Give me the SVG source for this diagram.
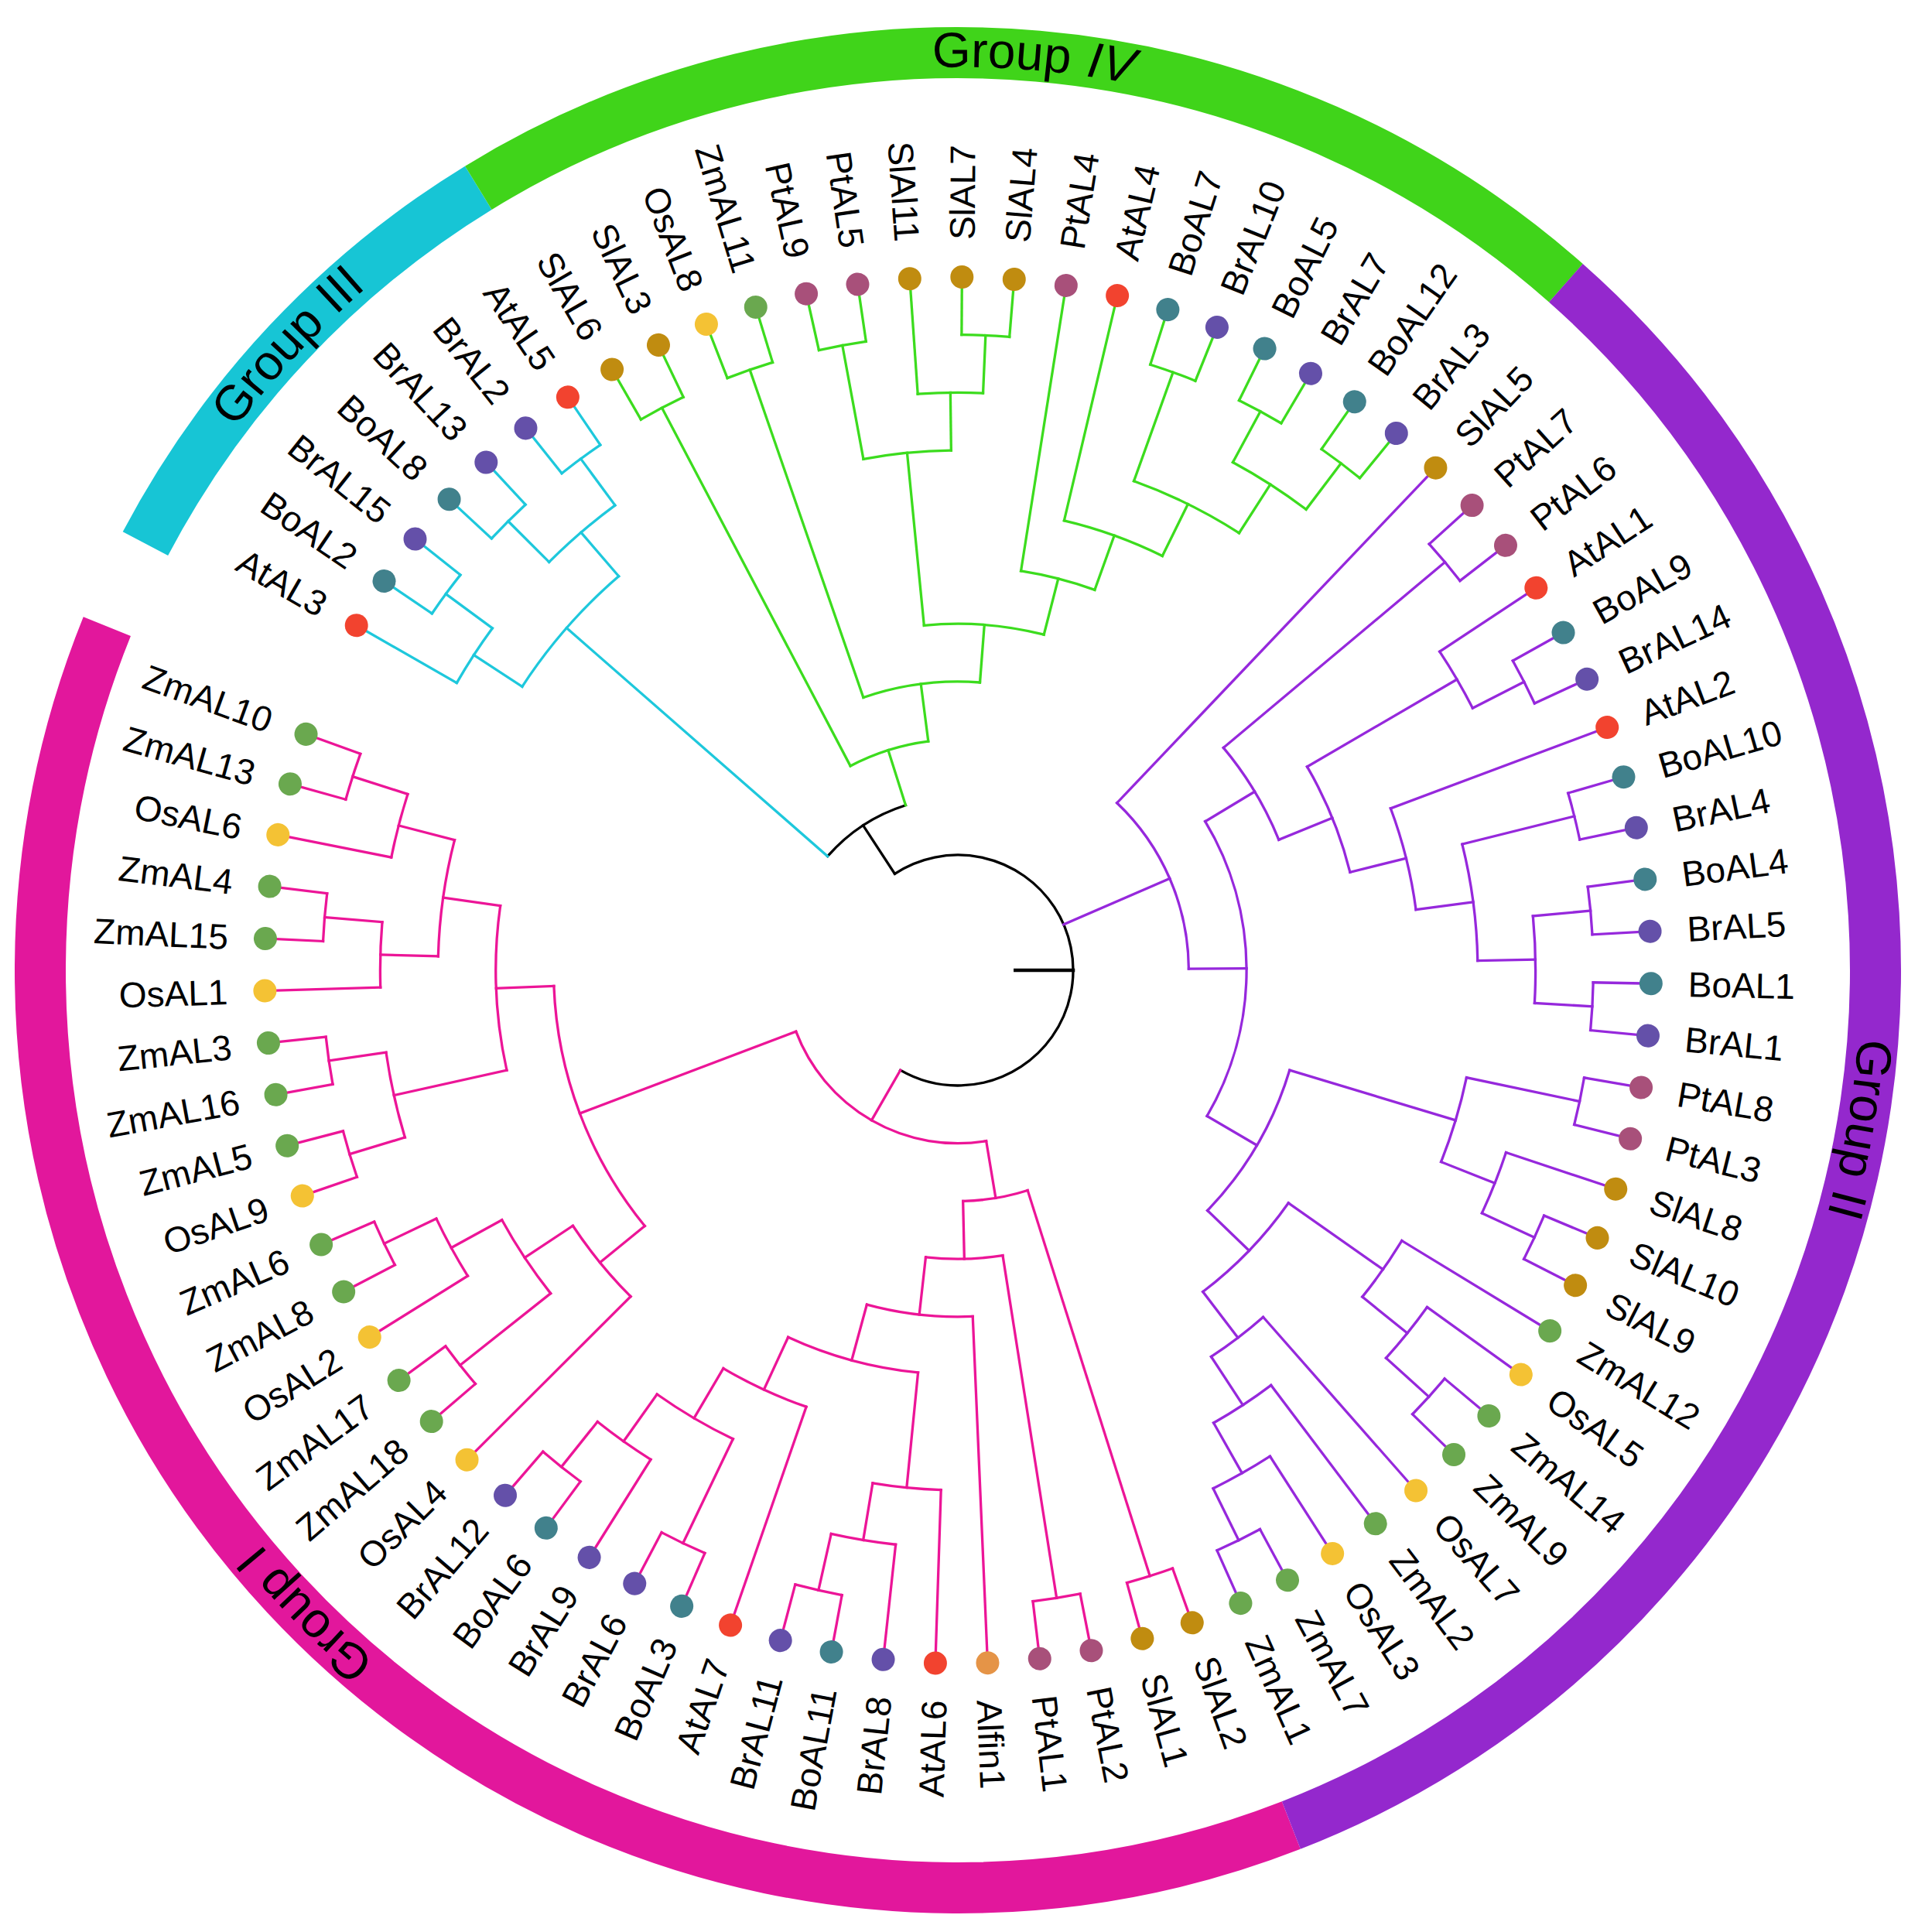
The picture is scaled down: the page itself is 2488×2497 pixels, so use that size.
<svg xmlns="http://www.w3.org/2000/svg" width="2488" height="2497" viewBox="0 0 2488 2497">
<style>
.t{font-family:"Liberation Sans",Arial,sans-serif;font-size:46px;fill:#000}
.e{text-anchor:end}
.g{font-family:"Liberation Sans",Arial,sans-serif;font-size:64px;fill:#000}
.it{font-style:italic}
#connectors line,#connectors circle{fill:none;stroke-width:3.3;stroke-linecap:square}
.I{stroke:#ec1597}.II{stroke:#9628dc}.III{stroke:#1ec8dc}.IV{stroke:#3cdc1e}.k{stroke:#000}
.ring{fill:none;stroke-width:66}
.at{fill:#f2432f}.bo{fill:#41818c}.br{fill:#6450a9}.pt{fill:#a8507a}.sl{fill:#c08c10}.os{fill:#f4c234}.zm{fill:#6aa84f}.al{fill:#e59447}
</style>
<defs>
<path id="lp" d="M 2405 1254 A 1167 1167 0 1 1 71 1254 A 1167 1167 0 1 1 2405 1254"/>
</defs>
<rect width="2488" height="2497" fill="#fff"/>
<g id="rings" transform="translate(1238 1254)">
<circle class="ring" r="1186" pathLength="360" stroke-dasharray="133.3 360" transform="rotate(68.7)" stroke="#e2179c"/>
<circle class="ring" r="1186" pathLength="360" stroke-dasharray="30.8 360" transform="rotate(207.7)" stroke="#17c5d5"/>
<circle class="ring" r="1186" pathLength="360" stroke-dasharray="73 360" transform="rotate(238.5)" stroke="#40d41a"/>
<circle class="ring" r="1186" pathLength="360" stroke-dasharray="117.2 360" transform="rotate(311.5)" stroke="#9428cd"/>
</g>
<g id="group-labels">
<text class="g"><textPath href="#lp" startOffset="203.7" text-anchor="middle">Group II</textPath></text>
<text class="g"><textPath href="#lp" startOffset="2757.8" text-anchor="middle">Group I</textPath></text>
<text class="g"><textPath href="#lp" startOffset="4542.1" text-anchor="middle">Group III</textPath></text>
<text class="g"><textPath href="#lp" startOffset="5467">Group</textPath></text>
<text class="g it"><textPath href="#lp" startOffset="5666">IV</textPath></text>
</g>
<g id="connectors" transform="translate(1238 1254)">
<g class="k">
<circle r="149" pathLength="360" stroke-dasharray="243.1 360" transform="rotate(236.81)"/>
<circle r="223.7" pathLength="360" stroke-dasharray="31.26 360" transform="rotate(221.18)"/>
<line x1="149" x2="223.7" transform="rotate(236.81)"/>
<line x1="74.3" x2="149" transform="rotate(0)" style="stroke-width:4.5"/>
</g>
<g class="III">
<circle r="821.3" pathLength="360" stroke-dasharray="4.32 360" transform="rotate(214.15)"/>
<circle r="821.3" pathLength="360" stroke-dasharray="4.32 360" transform="rotate(222.8)"/>
<circle r="821.3" pathLength="360" stroke-dasharray="4.32 360" transform="rotate(231.44)"/>
<circle r="746.6" pathLength="360" stroke-dasharray="6.48 360" transform="rotate(209.83)"/>
<circle r="746.6" pathLength="360" stroke-dasharray="8.64 360" transform="rotate(224.96)"/>
<circle r="671.9" pathLength="360" stroke-dasharray="16.21 360" transform="rotate(213.07)"/>
<line x1="746.6" x2="896" transform="rotate(209.83)"/>
<line x1="821.3" x2="896" transform="rotate(214.15)"/>
<line x1="821.3" x2="896" transform="rotate(218.47)"/>
<line x1="821.3" x2="896" transform="rotate(222.8)"/>
<line x1="821.3" x2="896" transform="rotate(227.12)"/>
<line x1="821.3" x2="896" transform="rotate(231.44)"/>
<line x1="821.3" x2="896" transform="rotate(235.76)"/>
<line x1="746.6" x2="821.3" transform="rotate(216.31)"/>
<line x1="746.6" x2="821.3" transform="rotate(224.96)"/>
<line x1="746.6" x2="821.3" transform="rotate(233.6)"/>
<line x1="671.9" x2="746.6" transform="rotate(213.07)"/>
<line x1="671.9" x2="746.6" transform="rotate(229.28)"/>
<line x1="223.7" x2="671.9" transform="rotate(221.18)"/>
</g>
<g class="IV">
<circle r="821.3" pathLength="360" stroke-dasharray="4.32 360" transform="rotate(240.08)"/>
<circle r="821.3" pathLength="360" stroke-dasharray="4.32 360" transform="rotate(248.73)"/>
<circle r="821.3" pathLength="360" stroke-dasharray="4.32 360" transform="rotate(257.37)"/>
<circle r="821.3" pathLength="360" stroke-dasharray="4.32 360" transform="rotate(270.34)"/>
<circle r="821.3" pathLength="360" stroke-dasharray="4.32 360" transform="rotate(287.63)"/>
<circle r="821.3" pathLength="360" stroke-dasharray="4.32 360" transform="rotate(296.27)"/>
<circle r="821.3" pathLength="360" stroke-dasharray="4.32 360" transform="rotate(304.91)"/>
<circle r="746.6" pathLength="360" stroke-dasharray="6.48 360" transform="rotate(266.02)"/>
<circle r="746.6" pathLength="360" stroke-dasharray="8.64 360" transform="rotate(298.43)"/>
<circle r="671.9" pathLength="360" stroke-dasharray="9.73 360" transform="rotate(259.53)"/>
<circle r="671.9" pathLength="360" stroke-dasharray="12.96 360" transform="rotate(289.79)"/>
<circle r="597.2" pathLength="360" stroke-dasharray="12.97 360" transform="rotate(283.3)"/>
<circle r="522.5" pathLength="360" stroke-dasharray="10.81 360" transform="rotate(278.98)"/>
<circle r="447.8" pathLength="360" stroke-dasharray="19.98 360" transform="rotate(264.4)"/>
<circle r="373.1" pathLength="360" stroke-dasharray="23.5 360" transform="rotate(250.89)"/>
<circle r="298.4" pathLength="360" stroke-dasharray="20.39 360" transform="rotate(242.25)"/>
<line x1="821.3" x2="896" transform="rotate(240.08)"/>
<line x1="821.3" x2="896" transform="rotate(244.41)"/>
<line x1="821.3" x2="896" transform="rotate(248.73)"/>
<line x1="821.3" x2="896" transform="rotate(253.05)"/>
<line x1="821.3" x2="896" transform="rotate(257.37)"/>
<line x1="821.3" x2="896" transform="rotate(261.69)"/>
<line x1="746.6" x2="896" transform="rotate(266.02)"/>
<line x1="821.3" x2="896" transform="rotate(270.34)"/>
<line x1="821.3" x2="896" transform="rotate(274.66)"/>
<line x1="522.5" x2="896" transform="rotate(278.98)"/>
<line x1="597.2" x2="896" transform="rotate(283.3)"/>
<line x1="821.3" x2="896" transform="rotate(287.63)"/>
<line x1="821.3" x2="896" transform="rotate(291.95)"/>
<line x1="821.3" x2="896" transform="rotate(296.27)"/>
<line x1="821.3" x2="896" transform="rotate(300.59)"/>
<line x1="821.3" x2="896" transform="rotate(304.91)"/>
<line x1="821.3" x2="896" transform="rotate(309.24)"/>
<line x1="298.4" x2="821.3" transform="rotate(242.25)"/>
<line x1="373.1" x2="821.3" transform="rotate(250.89)"/>
<line x1="671.9" x2="821.3" transform="rotate(259.53)"/>
<line x1="746.6" x2="821.3" transform="rotate(272.5)"/>
<line x1="671.9" x2="746.6" transform="rotate(269.26)"/>
<line x1="447.8" x2="671.9" transform="rotate(264.4)"/>
<line x1="671.9" x2="821.3" transform="rotate(289.79)"/>
<line x1="746.6" x2="821.3" transform="rotate(298.43)"/>
<line x1="746.6" x2="821.3" transform="rotate(307.08)"/>
<line x1="671.9" x2="746.6" transform="rotate(302.75)"/>
<line x1="597.2" x2="671.9" transform="rotate(296.27)"/>
<line x1="522.5" x2="597.2" transform="rotate(289.79)"/>
<line x1="447.8" x2="522.5" transform="rotate(284.38)"/>
<line x1="373.1" x2="447.8" transform="rotate(274.39)"/>
<line x1="298.4" x2="373.1" transform="rotate(262.64)"/>
<line x1="223.7" x2="298.4" transform="rotate(252.44)"/>
</g>
<g class="II">
<circle r="821.3" pathLength="360" stroke-dasharray="4.32 360" transform="rotate(317.88)"/>
<circle r="821.3" pathLength="360" stroke-dasharray="4.32 360" transform="rotate(330.85)"/>
<circle r="821.3" pathLength="360" stroke-dasharray="4.32 360" transform="rotate(343.81)"/>
<circle r="821.3" pathLength="360" stroke-dasharray="4.32 360" transform="rotate(352.46)"/>
<circle r="821.3" pathLength="360" stroke-dasharray="4.32 360" transform="rotate(361.1)"/>
<circle r="821.3" pathLength="360" stroke-dasharray="4.32 360" transform="rotate(369.74)"/>
<circle r="821.3" pathLength="360" stroke-dasharray="4.32 360" transform="rotate(382.71)"/>
<circle r="821.3" pathLength="360" stroke-dasharray="4.32 360" transform="rotate(400)"/>
<circle r="821.3" pathLength="360" stroke-dasharray="4.32 360" transform="rotate(421.61)"/>
<circle r="746.6" pathLength="360" stroke-dasharray="6.49 360" transform="rotate(326.52)"/>
<circle r="746.6" pathLength="360" stroke-dasharray="8.64 360" transform="rotate(354.62)"/>
<circle r="746.6" pathLength="360" stroke-dasharray="6.48 360" transform="rotate(378.39)"/>
<circle r="746.6" pathLength="360" stroke-dasharray="6.48 360" transform="rotate(395.68)"/>
<circle r="746.6" pathLength="360" stroke-dasharray="6.48 360" transform="rotate(417.29)"/>
<circle r="671.9" pathLength="360" stroke-dasharray="12.97 360" transform="rotate(345.97)"/>
<circle r="671.9" pathLength="360" stroke-dasharray="9.72 360" transform="rotate(371.91)"/>
<circle r="671.9" pathLength="360" stroke-dasharray="7.57 360" transform="rotate(391.35)"/>
<circle r="671.9" pathLength="360" stroke-dasharray="7.57 360" transform="rotate(412.96)"/>
<circle r="597.2" pathLength="360" stroke-dasharray="12.97 360" transform="rotate(339.49)"/>
<circle r="597.2" pathLength="360" stroke-dasharray="8.11 360" transform="rotate(408.64)"/>
<circle r="522.5" pathLength="360" stroke-dasharray="16.2 360" transform="rotate(329.77)"/>
<circle r="522.5" pathLength="360" stroke-dasharray="17.55 360" transform="rotate(395.14)"/>
<circle r="447.8" pathLength="360" stroke-dasharray="17.83 360" transform="rotate(320.04)"/>
<circle r="447.8" pathLength="360" stroke-dasharray="27.14 360" transform="rotate(376.77)"/>
<circle r="373.1" pathLength="360" stroke-dasharray="61.38 360" transform="rotate(328.96)"/>
<circle r="298.4" pathLength="360" stroke-dasharray="46.09 360" transform="rotate(313.56)"/>
<line x1="298.4" x2="896" transform="rotate(313.56)"/>
<line x1="821.3" x2="896" transform="rotate(317.88)"/>
<line x1="821.3" x2="896" transform="rotate(322.2)"/>
<line x1="746.6" x2="896" transform="rotate(326.52)"/>
<line x1="821.3" x2="896" transform="rotate(330.85)"/>
<line x1="821.3" x2="896" transform="rotate(335.17)"/>
<line x1="597.2" x2="896" transform="rotate(339.49)"/>
<line x1="821.3" x2="896" transform="rotate(343.81)"/>
<line x1="821.3" x2="896" transform="rotate(348.13)"/>
<line x1="821.3" x2="896" transform="rotate(352.46)"/>
<line x1="821.3" x2="896" transform="rotate(356.78)"/>
<line x1="821.3" x2="896" transform="rotate(361.1)"/>
<line x1="821.3" x2="896" transform="rotate(365.42)"/>
<line x1="821.3" x2="896" transform="rotate(369.74)"/>
<line x1="821.3" x2="896" transform="rotate(374.07)"/>
<line x1="746.6" x2="896" transform="rotate(378.39)"/>
<line x1="821.3" x2="896" transform="rotate(382.71)"/>
<line x1="821.3" x2="896" transform="rotate(387.03)"/>
<line x1="671.9" x2="896" transform="rotate(391.35)"/>
<line x1="746.6" x2="896" transform="rotate(395.68)"/>
<line x1="821.3" x2="896" transform="rotate(400)"/>
<line x1="821.3" x2="896" transform="rotate(404.32)"/>
<line x1="597.2" x2="896" transform="rotate(408.64)"/>
<line x1="671.9" x2="896" transform="rotate(412.96)"/>
<line x1="746.6" x2="896" transform="rotate(417.29)"/>
<line x1="821.3" x2="896" transform="rotate(421.61)"/>
<line x1="821.3" x2="896" transform="rotate(425.93)"/>
<line x1="447.8" x2="821.3" transform="rotate(320.04)"/>
<line x1="746.6" x2="821.3" transform="rotate(333.01)"/>
<line x1="522.5" x2="746.6" transform="rotate(329.77)"/>
<line x1="671.9" x2="821.3" transform="rotate(345.97)"/>
<line x1="746.6" x2="821.3" transform="rotate(354.62)"/>
<line x1="746.6" x2="821.3" transform="rotate(363.26)"/>
<line x1="671.9" x2="746.6" transform="rotate(358.94)"/>
<line x1="597.2" x2="671.9" transform="rotate(352.46)"/>
<line x1="522.5" x2="597.2" transform="rotate(345.97)"/>
<line x1="447.8" x2="522.5" transform="rotate(337.87)"/>
<line x1="373.1" x2="447.8" transform="rotate(328.96)"/>
<line x1="671.9" x2="821.3" transform="rotate(371.91)"/>
<line x1="746.6" x2="821.3" transform="rotate(384.87)"/>
<line x1="671.9" x2="746.6" transform="rotate(381.63)"/>
<line x1="447.8" x2="671.9" transform="rotate(376.77)"/>
<line x1="746.6" x2="821.3" transform="rotate(402.16)"/>
<line x1="671.9" x2="746.6" transform="rotate(398.92)"/>
<line x1="522.5" x2="671.9" transform="rotate(395.14)"/>
<line x1="746.6" x2="821.3" transform="rotate(423.77)"/>
<line x1="671.9" x2="746.6" transform="rotate(420.53)"/>
<line x1="597.2" x2="671.9" transform="rotate(416.75)"/>
<line x1="522.5" x2="597.2" transform="rotate(412.69)"/>
<line x1="447.8" x2="522.5" transform="rotate(403.91)"/>
<line x1="373.1" x2="447.8" transform="rotate(390.34)"/>
<line x1="298.4" x2="373.1" transform="rotate(359.65)"/>
<line x1="149" x2="298.4" transform="rotate(336.6)"/>
</g>
<g class="I">
<circle r="821.3" pathLength="360" stroke-dasharray="4.32 360" transform="rotate(430.25)"/>
<circle r="821.3" pathLength="360" stroke-dasharray="4.32 360" transform="rotate(438.9)"/>
<circle r="821.3" pathLength="360" stroke-dasharray="4.32 360" transform="rotate(460.51)"/>
<circle r="821.3" pathLength="360" stroke-dasharray="4.32 360" transform="rotate(473.47)"/>
<circle r="821.3" pathLength="360" stroke-dasharray="4.32 360" transform="rotate(486.44)"/>
<circle r="821.3" pathLength="360" stroke-dasharray="4.32 360" transform="rotate(499.4)"/>
<circle r="821.3" pathLength="360" stroke-dasharray="4.32 360" transform="rotate(512.37)"/>
<circle r="821.3" pathLength="360" stroke-dasharray="4.32 360" transform="rotate(521.01)"/>
<circle r="821.3" pathLength="360" stroke-dasharray="4.32 360" transform="rotate(529.66)"/>
<circle r="821.3" pathLength="360" stroke-dasharray="4.32 360" transform="rotate(542.62)"/>
<circle r="821.3" pathLength="360" stroke-dasharray="4.32 360" transform="rotate(555.59)"/>
<circle r="746.6" pathLength="360" stroke-dasharray="6.49 360" transform="rotate(456.18)"/>
<circle r="746.6" pathLength="360" stroke-dasharray="6.48 360" transform="rotate(482.12)"/>
<circle r="746.6" pathLength="360" stroke-dasharray="6.48 360" transform="rotate(508.05)"/>
<circle r="746.6" pathLength="360" stroke-dasharray="8.64 360" transform="rotate(523.18)"/>
<circle r="746.6" pathLength="360" stroke-dasharray="6.49 360" transform="rotate(538.3)"/>
<circle r="746.6" pathLength="360" stroke-dasharray="6.48 360" transform="rotate(551.27)"/>
<circle r="671.9" pathLength="360" stroke-dasharray="7.57 360" transform="rotate(451.86)"/>
<circle r="671.9" pathLength="360" stroke-dasharray="9.73 360" transform="rotate(475.63)"/>
<circle r="671.9" pathLength="360" stroke-dasharray="9.72 360" transform="rotate(501.57)"/>
<circle r="671.9" pathLength="360" stroke-dasharray="12.97 360" transform="rotate(541.54)"/>
<circle r="597.2" pathLength="360" stroke-dasharray="11.35 360" transform="rotate(469.15)"/>
<circle r="597.2" pathLength="360" stroke-dasharray="11.35 360" transform="rotate(495.08)"/>
<circle r="597.2" pathLength="360" stroke-dasharray="20.53 360" transform="rotate(527.5)"/>
<circle r="522.5" pathLength="360" stroke-dasharray="19.17 360" transform="rotate(455.65)"/>
<circle r="522.5" pathLength="360" stroke-dasharray="37 360" transform="rotate(500.76)"/>
<circle r="447.8" pathLength="360" stroke-dasharray="17.69 360" transform="rotate(447.54)"/>
<circle r="373.1" pathLength="360" stroke-dasharray="15.33 360" transform="rotate(441.06)"/>
<circle r="298.4" pathLength="360" stroke-dasharray="16.31 360" transform="rotate(432.41)"/>
<circle r="223.7" pathLength="360" stroke-dasharray="78.69 360" transform="rotate(440.57)"/>
<line x1="821.3" x2="896" transform="rotate(430.25)"/>
<line x1="821.3" x2="896" transform="rotate(434.57)"/>
<line x1="821.3" x2="896" transform="rotate(438.9)"/>
<line x1="821.3" x2="896" transform="rotate(443.22)"/>
<line x1="447.8" x2="896" transform="rotate(447.54)"/>
<line x1="671.9" x2="896" transform="rotate(451.86)"/>
<line x1="746.6" x2="896" transform="rotate(456.18)"/>
<line x1="821.3" x2="896" transform="rotate(460.51)"/>
<line x1="821.3" x2="896" transform="rotate(464.83)"/>
<line x1="597.2" x2="896" transform="rotate(469.15)"/>
<line x1="821.3" x2="896" transform="rotate(473.47)"/>
<line x1="821.3" x2="896" transform="rotate(477.79)"/>
<line x1="746.6" x2="896" transform="rotate(482.12)"/>
<line x1="821.3" x2="896" transform="rotate(486.44)"/>
<line x1="821.3" x2="896" transform="rotate(490.76)"/>
<line x1="597.2" x2="896" transform="rotate(495.08)"/>
<line x1="821.3" x2="896" transform="rotate(499.4)"/>
<line x1="821.3" x2="896" transform="rotate(503.73)"/>
<line x1="746.6" x2="896" transform="rotate(508.05)"/>
<line x1="821.3" x2="896" transform="rotate(512.37)"/>
<line x1="821.3" x2="896" transform="rotate(516.69)"/>
<line x1="821.3" x2="896" transform="rotate(521.01)"/>
<line x1="821.3" x2="896" transform="rotate(525.34)"/>
<line x1="821.3" x2="896" transform="rotate(529.66)"/>
<line x1="821.3" x2="896" transform="rotate(533.98)"/>
<line x1="746.6" x2="896" transform="rotate(538.3)"/>
<line x1="821.3" x2="896" transform="rotate(542.62)"/>
<line x1="821.3" x2="896" transform="rotate(546.95)"/>
<line x1="746.6" x2="896" transform="rotate(551.27)"/>
<line x1="821.3" x2="896" transform="rotate(555.59)"/>
<line x1="821.3" x2="896" transform="rotate(559.91)"/>
<line x1="298.4" x2="821.3" transform="rotate(432.41)"/>
<line x1="373.1" x2="821.3" transform="rotate(441.06)"/>
<line x1="746.6" x2="821.3" transform="rotate(462.67)"/>
<line x1="671.9" x2="746.6" transform="rotate(459.43)"/>
<line x1="522.5" x2="671.9" transform="rotate(455.65)"/>
<line x1="671.9" x2="821.3" transform="rotate(475.63)"/>
<line x1="746.6" x2="821.3" transform="rotate(488.6)"/>
<line x1="671.9" x2="746.6" transform="rotate(485.36)"/>
<line x1="597.2" x2="671.9" transform="rotate(480.5)"/>
<line x1="522.5" x2="597.2" transform="rotate(474.82)"/>
<line x1="447.8" x2="522.5" transform="rotate(465.23)"/>
<line x1="373.1" x2="447.8" transform="rotate(456.39)"/>
<line x1="298.4" x2="373.1" transform="rotate(448.72)"/>
<line x1="223.7" x2="298.4" transform="rotate(440.57)"/>
<line x1="671.9" x2="821.3" transform="rotate(501.57)"/>
<line x1="746.6" x2="821.3" transform="rotate(514.53)"/>
<line x1="671.9" x2="746.6" transform="rotate(511.29)"/>
<line x1="597.2" x2="671.9" transform="rotate(506.43)"/>
<line x1="522.5" x2="597.2" transform="rotate(500.76)"/>
<line x1="746.6" x2="821.3" transform="rotate(523.18)"/>
<line x1="746.6" x2="821.3" transform="rotate(531.82)"/>
<line x1="597.2" x2="746.6" transform="rotate(527.5)"/>
<line x1="746.6" x2="821.3" transform="rotate(544.79)"/>
<line x1="671.9" x2="746.6" transform="rotate(541.54)"/>
<line x1="746.6" x2="821.3" transform="rotate(557.75)"/>
<line x1="671.9" x2="746.6" transform="rotate(554.51)"/>
<line x1="597.2" x2="671.9" transform="rotate(548.03)"/>
<line x1="522.5" x2="597.2" transform="rotate(537.76)"/>
<line x1="223.7" x2="522.5" transform="rotate(519.26)"/>
<line x1="149" x2="223.7" transform="rotate(479.91)"/>
</g>
</g>
<g id="leaves" transform="translate(1238 1254)">
<g id="AtAL3" transform="rotate(209.83)"><circle cx="896" r="15" class="at"/><text class="t e" x="-944" dy=".35em" transform="rotate(180)">AtAL3</text></g>
<g id="BoAL2" transform="rotate(214.15)"><circle cx="896" r="15" class="bo"/><text class="t e" x="-944" dy=".35em" transform="rotate(180)">BoAL2</text></g>
<g id="BrAL15" transform="rotate(218.47)"><circle cx="896" r="15" class="br"/><text class="t e" x="-944" dy=".35em" transform="rotate(180)">BrAL15</text></g>
<g id="BoAL8" transform="rotate(222.8)"><circle cx="896" r="15" class="bo"/><text class="t e" x="-944" dy=".35em" transform="rotate(180)">BoAL8</text></g>
<g id="BrAL13" transform="rotate(227.12)"><circle cx="896" r="15" class="br"/><text class="t e" x="-944" dy=".35em" transform="rotate(180)">BrAL13</text></g>
<g id="BrAL2" transform="rotate(231.44)"><circle cx="896" r="15" class="br"/><text class="t e" x="-944" dy=".35em" transform="rotate(180)">BrAL2</text></g>
<g id="AtAL5" transform="rotate(235.76)"><circle cx="896" r="15" class="at"/><text class="t e" x="-944" dy=".35em" transform="rotate(180)">AtAL5</text></g>
<g id="SlAL6" transform="rotate(240.08)"><circle cx="896" r="15" class="sl"/><text class="t e" x="-944" dy=".35em" transform="rotate(180)">SlAL6</text></g>
<g id="SlAL3" transform="rotate(244.41)"><circle cx="896" r="15" class="sl"/><text class="t e" x="-944" dy=".35em" transform="rotate(180)">SlAL3</text></g>
<g id="OsAL8" transform="rotate(248.73)"><circle cx="896" r="15" class="os"/><text class="t e" x="-944" dy=".35em" transform="rotate(180)">OsAL8</text></g>
<g id="ZmAL11" transform="rotate(253.05)"><circle cx="896" r="15" class="zm"/><text class="t e" x="-944" dy=".35em" transform="rotate(180)">ZmAL11</text></g>
<g id="PtAL9" transform="rotate(257.37)"><circle cx="896" r="15" class="pt"/><text class="t e" x="-944" dy=".35em" transform="rotate(180)">PtAL9</text></g>
<g id="PtAL5" transform="rotate(261.69)"><circle cx="896" r="15" class="pt"/><text class="t e" x="-944" dy=".35em" transform="rotate(180)">PtAL5</text></g>
<g id="SlAl11" transform="rotate(266.02)"><circle cx="896" r="15" class="sl"/><text class="t e" x="-944" dy=".35em" transform="rotate(180)">SlAl11</text></g>
<g id="SlAL7" transform="rotate(270.34)"><circle cx="896" r="15" class="sl"/><text class="t" x="944" dy=".35em">SlAL7</text></g>
<g id="SlAL4" transform="rotate(274.66)"><circle cx="896" r="15" class="sl"/><text class="t" x="944" dy=".35em">SlAL4</text></g>
<g id="PtAL4" transform="rotate(278.98)"><circle cx="896" r="15" class="pt"/><text class="t" x="944" dy=".35em">PtAL4</text></g>
<g id="AtAL4" transform="rotate(283.3)"><circle cx="896" r="15" class="at"/><text class="t" x="944" dy=".35em">AtAL4</text></g>
<g id="BoAL7" transform="rotate(287.63)"><circle cx="896" r="15" class="bo"/><text class="t" x="944" dy=".35em">BoAL7</text></g>
<g id="BrAL10" transform="rotate(291.95)"><circle cx="896" r="15" class="br"/><text class="t" x="944" dy=".35em">BrAL10</text></g>
<g id="BoAL5" transform="rotate(296.27)"><circle cx="896" r="15" class="bo"/><text class="t" x="944" dy=".35em">BoAL5</text></g>
<g id="BrAL7" transform="rotate(300.59)"><circle cx="896" r="15" class="br"/><text class="t" x="944" dy=".35em">BrAL7</text></g>
<g id="BoAL12" transform="rotate(304.91)"><circle cx="896" r="15" class="bo"/><text class="t" x="944" dy=".35em">BoAL12</text></g>
<g id="BrAL3" transform="rotate(309.24)"><circle cx="896" r="15" class="br"/><text class="t" x="944" dy=".35em">BrAL3</text></g>
<g id="SlAL5" transform="rotate(313.56)"><circle cx="896" r="15" class="sl"/><text class="t" x="944" dy=".35em">SlAL5</text></g>
<g id="PtAL7" transform="rotate(317.88)"><circle cx="896" r="15" class="pt"/><text class="t" x="944" dy=".35em">PtAL7</text></g>
<g id="PtAL6" transform="rotate(322.2)"><circle cx="896" r="15" class="pt"/><text class="t" x="944" dy=".35em">PtAL6</text></g>
<g id="AtAL1" transform="rotate(326.52)"><circle cx="896" r="15" class="at"/><text class="t" x="944" dy=".35em">AtAL1</text></g>
<g id="BoAL9" transform="rotate(330.85)"><circle cx="896" r="15" class="bo"/><text class="t" x="944" dy=".35em">BoAL9</text></g>
<g id="BrAL14" transform="rotate(335.17)"><circle cx="896" r="15" class="br"/><text class="t" x="944" dy=".35em">BrAL14</text></g>
<g id="AtAL2" transform="rotate(339.49)"><circle cx="896" r="15" class="at"/><text class="t" x="944" dy=".35em">AtAL2</text></g>
<g id="BoAL10" transform="rotate(343.81)"><circle cx="896" r="15" class="bo"/><text class="t" x="944" dy=".35em">BoAL10</text></g>
<g id="BrAL4" transform="rotate(348.13)"><circle cx="896" r="15" class="br"/><text class="t" x="944" dy=".35em">BrAL4</text></g>
<g id="BoAL4" transform="rotate(352.46)"><circle cx="896" r="15" class="bo"/><text class="t" x="944" dy=".35em">BoAL4</text></g>
<g id="BrAL5" transform="rotate(356.78)"><circle cx="896" r="15" class="br"/><text class="t" x="944" dy=".35em">BrAL5</text></g>
<g id="BoAL1" transform="rotate(361.1)"><circle cx="896" r="15" class="bo"/><text class="t" x="944" dy=".35em">BoAL1</text></g>
<g id="BrAL1" transform="rotate(365.42)"><circle cx="896" r="15" class="br"/><text class="t" x="944" dy=".35em">BrAL1</text></g>
<g id="PtAL8" transform="rotate(369.74)"><circle cx="896" r="15" class="pt"/><text class="t" x="944" dy=".35em">PtAL8</text></g>
<g id="PtAL3" transform="rotate(374.07)"><circle cx="896" r="15" class="pt"/><text class="t" x="944" dy=".35em">PtAL3</text></g>
<g id="SlAL8" transform="rotate(378.39)"><circle cx="896" r="15" class="sl"/><text class="t" x="944" dy=".35em">SlAL8</text></g>
<g id="SlAL10" transform="rotate(382.71)"><circle cx="896" r="15" class="sl"/><text class="t" x="944" dy=".35em">SlAL10</text></g>
<g id="SlAL9" transform="rotate(387.03)"><circle cx="896" r="15" class="sl"/><text class="t" x="944" dy=".35em">SlAL9</text></g>
<g id="ZmAL12" transform="rotate(391.35)"><circle cx="896" r="15" class="zm"/><text class="t" x="944" dy=".35em">ZmAL12</text></g>
<g id="OsAL5" transform="rotate(395.68)"><circle cx="896" r="15" class="os"/><text class="t" x="944" dy=".35em">OsAL5</text></g>
<g id="ZmAL14" transform="rotate(400)"><circle cx="896" r="15" class="zm"/><text class="t" x="944" dy=".35em">ZmAL14</text></g>
<g id="ZmAL9" transform="rotate(404.32)"><circle cx="896" r="15" class="zm"/><text class="t" x="944" dy=".35em">ZmAL9</text></g>
<g id="OsAL7" transform="rotate(408.64)"><circle cx="896" r="15" class="os"/><text class="t" x="944" dy=".35em">OsAL7</text></g>
<g id="ZmAL2" transform="rotate(412.96)"><circle cx="896" r="15" class="zm"/><text class="t" x="944" dy=".35em">ZmAL2</text></g>
<g id="OsAL3" transform="rotate(417.29)"><circle cx="896" r="15" class="os"/><text class="t" x="944" dy=".35em">OsAL3</text></g>
<g id="ZmAL7" transform="rotate(421.61)"><circle cx="896" r="15" class="zm"/><text class="t" x="944" dy=".35em">ZmAL7</text></g>
<g id="ZmAL1" transform="rotate(425.93)"><circle cx="896" r="15" class="zm"/><text class="t" x="944" dy=".35em">ZmAL1</text></g>
<g id="SlAL2" transform="rotate(430.25)"><circle cx="896" r="15" class="sl"/><text class="t" x="944" dy=".35em">SlAL2</text></g>
<g id="SlAL1" transform="rotate(434.57)"><circle cx="896" r="15" class="sl"/><text class="t" x="944" dy=".35em">SlAL1</text></g>
<g id="PtAL2" transform="rotate(438.9)"><circle cx="896" r="15" class="pt"/><text class="t" x="944" dy=".35em">PtAL2</text></g>
<g id="PtAL1" transform="rotate(443.22)"><circle cx="896" r="15" class="pt"/><text class="t" x="944" dy=".35em">PtAL1</text></g>
<g id="Alfin1" transform="rotate(447.54)"><circle cx="896" r="15" class="al"/><text class="t" x="944" dy=".35em">Alfin1</text></g>
<g id="AtAL6" transform="rotate(451.86)"><circle cx="896" r="15" class="at"/><text class="t e" x="-944" dy=".35em" transform="rotate(180)">AtAL6</text></g>
<g id="BrAL8" transform="rotate(456.18)"><circle cx="896" r="15" class="br"/><text class="t e" x="-944" dy=".35em" transform="rotate(180)">BrAL8</text></g>
<g id="BoAL11" transform="rotate(460.51)"><circle cx="896" r="15" class="bo"/><text class="t e" x="-944" dy=".35em" transform="rotate(180)">BoAL11</text></g>
<g id="BrAL11" transform="rotate(464.83)"><circle cx="896" r="15" class="br"/><text class="t e" x="-944" dy=".35em" transform="rotate(180)">BrAL11</text></g>
<g id="AtAL7" transform="rotate(469.15)"><circle cx="896" r="15" class="at"/><text class="t e" x="-944" dy=".35em" transform="rotate(180)">AtAL7</text></g>
<g id="BoAL3" transform="rotate(473.47)"><circle cx="896" r="15" class="bo"/><text class="t e" x="-944" dy=".35em" transform="rotate(180)">BoAL3</text></g>
<g id="BrAL6" transform="rotate(477.79)"><circle cx="896" r="15" class="br"/><text class="t e" x="-944" dy=".35em" transform="rotate(180)">BrAL6</text></g>
<g id="BrAL9" transform="rotate(482.12)"><circle cx="896" r="15" class="br"/><text class="t e" x="-944" dy=".35em" transform="rotate(180)">BrAL9</text></g>
<g id="BoAL6" transform="rotate(486.44)"><circle cx="896" r="15" class="bo"/><text class="t e" x="-944" dy=".35em" transform="rotate(180)">BoAL6</text></g>
<g id="BrAL12" transform="rotate(490.76)"><circle cx="896" r="15" class="br"/><text class="t e" x="-944" dy=".35em" transform="rotate(180)">BrAL12</text></g>
<g id="OsAL4" transform="rotate(495.08)"><circle cx="896" r="15" class="os"/><text class="t e" x="-944" dy=".35em" transform="rotate(180)">OsAL4</text></g>
<g id="ZmAL18" transform="rotate(499.4)"><circle cx="896" r="15" class="zm"/><text class="t e" x="-944" dy=".35em" transform="rotate(180)">ZmAL18</text></g>
<g id="ZmAL17" transform="rotate(503.73)"><circle cx="896" r="15" class="zm"/><text class="t e" x="-944" dy=".35em" transform="rotate(180)">ZmAL17</text></g>
<g id="OsAL2" transform="rotate(508.05)"><circle cx="896" r="15" class="os"/><text class="t e" x="-944" dy=".35em" transform="rotate(180)">OsAL2</text></g>
<g id="ZmAL8" transform="rotate(512.37)"><circle cx="896" r="15" class="zm"/><text class="t e" x="-944" dy=".35em" transform="rotate(180)">ZmAL8</text></g>
<g id="ZmAL6" transform="rotate(516.69)"><circle cx="896" r="15" class="zm"/><text class="t e" x="-944" dy=".35em" transform="rotate(180)">ZmAL6</text></g>
<g id="OsAL9" transform="rotate(521.01)"><circle cx="896" r="15" class="os"/><text class="t e" x="-944" dy=".35em" transform="rotate(180)">OsAL9</text></g>
<g id="ZmAL5" transform="rotate(525.34)"><circle cx="896" r="15" class="zm"/><text class="t e" x="-944" dy=".35em" transform="rotate(180)">ZmAL5</text></g>
<g id="ZmAL16" transform="rotate(529.66)"><circle cx="896" r="15" class="zm"/><text class="t e" x="-944" dy=".35em" transform="rotate(180)">ZmAL16</text></g>
<g id="ZmAL3" transform="rotate(533.98)"><circle cx="896" r="15" class="zm"/><text class="t e" x="-944" dy=".35em" transform="rotate(180)">ZmAL3</text></g>
<g id="OsAL1" transform="rotate(538.3)"><circle cx="896" r="15" class="os"/><text class="t e" x="-944" dy=".35em" transform="rotate(180)">OsAL1</text></g>
<g id="ZmAL15" transform="rotate(542.62)"><circle cx="896" r="15" class="zm"/><text class="t e" x="-944" dy=".35em" transform="rotate(180)">ZmAL15</text></g>
<g id="ZmAL4" transform="rotate(546.95)"><circle cx="896" r="15" class="zm"/><text class="t e" x="-944" dy=".35em" transform="rotate(180)">ZmAL4</text></g>
<g id="OsAL6" transform="rotate(551.27)"><circle cx="896" r="15" class="os"/><text class="t e" x="-944" dy=".35em" transform="rotate(180)">OsAL6</text></g>
<g id="ZmAL13" transform="rotate(555.59)"><circle cx="896" r="15" class="zm"/><text class="t e" x="-944" dy=".35em" transform="rotate(180)">ZmAL13</text></g>
<g id="ZmAL10" transform="rotate(559.91)"><circle cx="896" r="15" class="zm"/><text class="t e" x="-944" dy=".35em" transform="rotate(180)">ZmAL10</text></g>
</g>
</svg>
